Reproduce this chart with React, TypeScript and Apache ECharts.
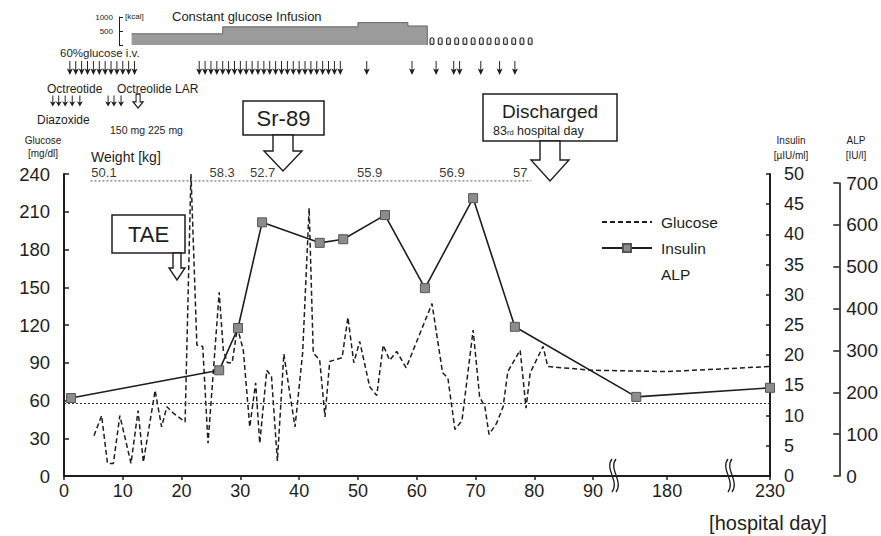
import React, { useEffect, useRef } from "react";
import * as echarts from "echarts";

// ---------- data ----------
const glucoseDays = [5.1, 6.4, 7.4, 8.4, 9.5, 11.4, 12.6, 13.5, 15.5, 16.6, 17.5, 18.6, 20.6, 21.6, 22.6, 23.6, 24.5, 26.4, 27.1, 27.8, 28.6, 29.5, 30.5, 31.6, 32.6, 33.3, 34.5, 35.3, 36.3, 37.4, 38.4, 39.3, 40.6, 41.7, 42.4, 43.5, 44.4, 45.2, 47.3, 48.3, 49.3, 50.3, 52.0, 53.2, 54.3, 55.4, 56.6, 58.2, 62.6, 64.4, 65.3, 66.5, 67.7, 69.6, 70.7, 71.6, 72.3, 73.6, 74.7, 75.5, 77.6, 78.6, 79.3, 81.5, 82.3, 90, 180, 230];
const glucoseValues = [32, 48, 10, 10, 48, 10, 52, 11, 68, 39, 55, 50, 43, 240, 104, 103, 26, 146, 100, 90, 90, 118, 100, 39, 74, 26, 84, 79, 12, 97, 66, 39, 98, 213, 98, 92, 47, 91, 94, 126, 90, 107, 71, 64, 104, 92, 99, 86, 137, 82, 78, 37, 44, 116, 63, 55, 33, 42, 55, 83, 100, 54, 82, 103, 87, 84, 83, 87];

const insulinDays = [1.2, 26.4, 29.6, 33.7, 43.5, 47.5, 54.6, 61.4, 69.6, 76.7, 165, 230];
const insulinValues = [12.9, 17.5, 24.5, 42, 38.6, 39.2, 43.2, 31.1, 46, 24.7, 13.1, 14.6];

const weightDays = [6.8, 26.9, 33.8, 52.0, 66.0, 77.6];
const weightValues = ["50.1", "58.3", "52.7", "55.9", "56.9", "57"];

const infusionDays = [11.5, 27, 50, 58.5, 61.8];
const infusionKcal = [400, 650, 800, 680, 0];

const intermittentDays = [62.6, 64.0, 65.4, 66.8, 68.2, 69.6, 71.0, 72.3, 73.7, 75.1, 76.5, 77.9, 79.3];
const intermittentKcal = [280, 280, 280, 280, 280, 280, 280, 280, 280, 280, 280, 280, 280];

const glucoseIVDays = [1, 2, 3, 4, 5, 6, 7, 8, 9, 10, 11, 12, 23, 24, 25, 26, 27, 28, 29, 30, 31, 32, 33, 34, 35, 36, 37, 38, 39, 40, 41, 42, 43, 44, 45, 46, 47, 51.5, 59.2, 63.3, 66.3, 67.3, 70.9, 74.1, 76.7];
const octreotideDays = [-1.9, -0.9, 0.2, 1.4, 2.7, 7.5, 8.5, 9.7];
const octreotideLARDays = [12.6];

const xTickDays = [0, 10, 20, 30, 40, 50, 60, 70, 80, 90, 180, 230];
const hypoglycemiaLine = 58;

// ---------- axis break mapping ----------
const AFTER_ANCHOR_POS = 102.6;
const AFTER_SCALE = 0.35;
const toPos = (d: number) => (d <= 90 ? d : AFTER_ANCHOR_POS + (d - 180) * AFTER_SCALE);
const toDay = (p: number) => (p <= 90.5 ? Math.round(p) : Math.round(180 + (p - AFTER_ANCHOR_POS) / AFTER_SCALE));
const X_MAX = toPos(230);

const W = 881;
const H = 536;
const GL = 64;
const GR = 111;
const PX_PER = (W - GL - GR) / X_MAX;

const FONT = "'Liberation Sans', Arial, sans-serif";
const INK = "#1e1e1e";

const arrowPath = "path://M4.2,0 L5.8,0 L5.8,10 L10,8.5 L5,16 L0,8.5 L4.2,10 Z";
const hollowArrowPath = "path://M3,0 L7,0 L7,9 L10,9 L5,16 L0,9 L3,9 Z";

function txt(x: number, y: number, text: string, fontSize: number, align = "left", extra: any = {}) {
  return {
    type: "text",
    x,
    y,
    silent: true,
    style: {
      text,
      fontSize,
      fontFamily: FONT,
      fill: INK,
      align,
      verticalAlign: "middle",
      textAlign: align,
      textVerticalAlign: "middle",
      ...extra,
    },
  };
}

function boxedArrow(pts: number[][]) {
  return {
    type: "polygon",
    silent: true,
    shape: { points: pts },
    style: { fill: "#fff", stroke: INK, lineWidth: 1.4 },
  };
}

function breakMark(x: number) {
  const mk = (dx: number) => ({
    type: "bezierCurve",
    silent: true,
    shape: { x1: x + dx + 1, y1: 459, cpx1: x + dx - 7, cpy1: 469, cpx2: x + dx + 9, cpy2: 481, x2: x + dx + 1, y2: 492 },
    style: { stroke: INK, lineWidth: 1.3, fill: "none" },
  });
  return [mk(0), mk(4)];
}

export default function App() {
  const ref = useRef<HTMLDivElement>(null);

  useEffect(() => {
    if (!ref.current) return;
    const chart = echarts.init(ref.current, undefined, { renderer: "svg" });

    const axisLineStyle = { color: INK, width: 2 };
    const xTickPos = xTickDays.map(toPos);
    const kcalMin = (119 - GL) / PX_PER;
    const annotMin = -(GL - 40) / PX_PER;

    const option: any = {
      animation: false,
      backgroundColor: "#fff",
      textStyle: { fontFamily: FONT, color: INK },
      grid: [
        { left: GL, right: GR, top: 174, bottom: 60 },
        { left: GL, right: 39, top: 183, bottom: 60 },
        { left: 119, right: GR, top: 17, bottom: H - 45 },
        { left: 40, right: GR, top: 55, bottom: H - 110 },
      ],
      xAxis: [
        {
          gridIndex: 0,
          type: "value",
          min: 0,
          max: X_MAX,
          axisLine: { show: true, onZero: false, lineStyle: axisLineStyle },
          axisTick: { show: true, customValues: xTickPos, length: 4, lineStyle: { color: INK, width: 1.5 } },
          axisLabel: {
            customValues: xTickPos,
            formatter: (v: number) => String(toDay(v)),
            fontSize: 18,
            color: INK,
            margin: 6,
            fontFamily: FONT,
          },
          splitLine: { show: false },
        },
        { gridIndex: 1, type: "value", min: 0, max: 1, show: false },
        { gridIndex: 2, type: "value", min: kcalMin, max: X_MAX, show: false },
        { gridIndex: 3, type: "value", min: annotMin, max: X_MAX, show: false },
      ],
      yAxis: [
        {
          gridIndex: 0,
          type: "value",
          min: 0,
          max: 240,
          interval: 30,
          position: "left",
          axisLine: { show: true, onZero: false, lineStyle: axisLineStyle },
          axisTick: { show: true, inside: true, length: 5, lineStyle: { color: INK, width: 1.5 } },
          axisLabel: { fontSize: 18.5, color: INK, margin: 14, fontFamily: FONT },
          splitLine: { show: false },
        },
        {
          gridIndex: 0,
          type: "value",
          min: 0,
          max: 50,
          interval: 5,
          position: "right",
          axisLine: { show: true, onZero: false, lineStyle: axisLineStyle },
          axisTick: { show: true, inside: true, length: 4, lineStyle: { color: INK, width: 1.5 } },
          axisLabel: { fontSize: 18, color: INK, margin: 14, fontFamily: FONT },
          splitLine: { show: false },
        },
        {
          gridIndex: 1,
          type: "value",
          min: 0,
          max: 700,
          interval: 100,
          position: "right",
          axisLine: { show: true, onZero: false, lineStyle: { color: INK, width: 1.6 } },
          axisTick: { show: true, inside: true, length: 6, lineStyle: { color: INK, width: 1.5 } },
          axisLabel: { fontSize: 19, color: INK, margin: 7, fontFamily: FONT },
          splitLine: { show: false },
        },
        {
          gridIndex: 2,
          type: "value",
          min: 0,
          max: 1000,
          position: "left",
          axisLine: { show: true, onZero: false, lineStyle: { color: INK, width: 1 } },
          axisTick: { show: true, inside: true, length: 4, customValues: [0, 500, 1000], lineStyle: { color: INK, width: 1 } },
          axisLabel: { customValues: [500, 1000], formatter: (v: number) => String(v), fontSize: 8, color: INK, margin: 6, fontFamily: FONT },
          splitLine: { show: false },
        },
        { gridIndex: 3, type: "value", min: 0, max: 55, inverse: true, show: false },
      ],
      legend: {
        data: [{ name: "Glucose", itemStyle: { opacity: 0 } }, "Insulin", "ALP"],
        orient: "vertical",
        left: 596,
        top: 209,
        itemWidth: 50,
        itemHeight: 10,
        itemGap: 10,
        textStyle: { fontSize: 15.5, color: INK, fontFamily: FONT, padding: [0, 0, 0, 4] },
        selectedMode: false,
      },
      series: [
        {
          name: "Glucose",
          type: "line",
          xAxisIndex: 0,
          yAxisIndex: 0,
          data: glucoseDays.map((d, i) => [toPos(d), glucoseValues[i]]),
          symbol: "none",
          lineStyle: { color: INK, width: 1.5, type: [5, 3] },
          itemStyle: { color: INK },
          z: 3,
          markLine: {
            silent: true,
            symbol: ["none", "none"],
            label: { show: false },
            lineStyle: { type: [2, 2], color: "#333", width: 1 },
            data: [{ yAxis: hypoglycemiaLine }],
          },
        },
        {
          name: "Insulin",
          type: "line",
          xAxisIndex: 0,
          yAxisIndex: 1,
          data: insulinDays.map((d, i) => [toPos(d), insulinValues[i]]),
          symbol: "rect",
          symbolSize: 9,
          lineStyle: { color: INK, width: 1.6 },
          itemStyle: { color: "#8c8c8c", borderColor: "#555", borderWidth: 1 },
          z: 4,
        },
        {
          name: "ALP",
          type: "line",
          xAxisIndex: 1,
          yAxisIndex: 2,
          data: [],
          symbol: "none",
          lineStyle: { opacity: 0 },
          itemStyle: { opacity: 0 },
        },
        {
          name: "WeightRow",
          type: "line",
          xAxisIndex: 0,
          yAxisIndex: 0,
          data: [[toPos(4.5), 234.5], [toPos(79.5), 234.5]],
          symbol: "none",
          lineStyle: { color: "#555", width: 1, type: [2, 2] },
          silent: true,
        },
        {
          name: "Weight",
          type: "scatter",
          xAxisIndex: 0,
          yAxisIndex: 0,
          data: weightDays.map((d, i) => [toPos(d), 234.5, weightValues[i]]),
          symbolSize: 0,
          label: {
            show: true,
            position: "top",
            distance: 2,
            fontSize: 13,
            color: "#000",
            fontFamily: FONT,
            formatter: (p: any) => p.value[2],
          },
          silent: true,
        },
        {
          name: "Infusion",
          type: "line",
          xAxisIndex: 2,
          yAxisIndex: 3,
          step: "end",
          data: infusionDays.map((d, i) => [toPos(d), infusionKcal[i]]),
          symbol: "none",
          lineStyle: { color: "#666", width: 1 },
          areaStyle: { color: "#9b9b9b", opacity: 1 },
          silent: true,
        },
        {
          name: "Intermittent",
          type: "bar",
          xAxisIndex: 2,
          yAxisIndex: 3,
          data: intermittentDays.map((d, i) => [toPos(d), intermittentKcal[i]]),
          barWidth: 5,
          itemStyle: { color: "#e6e6e6", borderColor: "#333", borderWidth: 1.2, borderRadius: [2, 2, 1, 1] },
          silent: true,
        },
        {
          name: "GlucoseIV",
          type: "scatter",
          xAxisIndex: 3,
          yAxisIndex: 4,
          data: glucoseIVDays.map((d) => [toPos(d), 13]),
          symbol: arrowPath,
          symbolSize: [6, 14],
          itemStyle: { color: INK, opacity: 1 },
          clip: false,
          silent: true,
        },
        {
          name: "Octreotide",
          type: "scatter",
          xAxisIndex: 3,
          yAxisIndex: 4,
          data: octreotideDays.map((d) => [toPos(d), 46]),
          symbol: arrowPath,
          symbolSize: [6, 11],
          itemStyle: { color: INK, opacity: 1 },
          clip: false,
          silent: true,
        },
        {
          name: "OctreotideLAR",
          type: "scatter",
          xAxisIndex: 3,
          yAxisIndex: 4,
          data: octreotideLARDays.map((d) => [toPos(d), 46]),
          symbol: hollowArrowPath,
          symbolSize: [10, 14],
          itemStyle: { color: "#fff", borderColor: INK, borderWidth: 1.2, opacity: 1 },
          clip: false,
          silent: true,
        },
      ],
      graphic: [
        txt(125, 16, "[kcal]", 8),
        txt(172, 16, "Constant glucose Infusion", 13),
        txt(60, 53, "60%glucose i.v.", 11.5),
        txt(47, 89, "Octreotide", 12),
        txt(117, 89, "Octreolide LAR", 12),
        txt(37, 120, "Diazoxide", 12),
        txt(110, 130, "150 mg 225 mg", 10.5),
        txt(43, 140, "Glucose", 10, "center"),
        txt(43, 153, "[mg/dl]", 10, "center"),
        txt(91, 157, "Weight [kg]", 14),
        txt(791, 140, "Insulin", 10, "center"),
        txt(791, 155, "[\u00b5IU/ml]", 10, "center"),
        txt(856, 140, "ALP", 10, "center"),
        txt(856, 155, "[IU/l]", 10, "center"),
        txt(768, 523, "[hospital day]", 20, "center"),
        { type: "rect", silent: true, shape: { x: 112, y: 215, width: 73, height: 38 }, style: { fill: "#fff", stroke: INK, lineWidth: 1.5 } },
        txt(148.5, 234.5, "TAE", 22, "center"),
        boxedArrow([[173, 253], [181, 253], [181, 268], [185, 268], [177, 280], [169, 268], [173, 268]]),
        { type: "rect", silent: true, shape: { x: 243, y: 101, width: 81, height: 34 }, style: { fill: "#fff", stroke: INK, lineWidth: 1.5 } },
        txt(283.5, 118.5, "Sr-89", 22, "center"),
        boxedArrow([[273, 135], [293, 135], [293, 151], [302, 151], [283, 171], [264, 151], [273, 151]]),
        { type: "rect", silent: true, shape: { x: 483, y: 94, width: 134, height: 47 }, style: { fill: "#fff", stroke: INK, lineWidth: 1.5 } },
        txt(550, 111, "Discharged", 19, "center"),
        txt(493, 131, "83", 12.5),
        txt(507, 132, "rd", 7.5),
        txt(517, 131, "hospital day", 12.5),
        boxedArrow([[540, 141], [560, 141], [560, 160], [569, 160], [550, 181], [531, 160], [540, 160]]),
        ...breakMark(611),
        ...breakMark(727),
      ],
    };

    chart.setOption(option);
    return () => chart.dispose();
  }, []);

  return (
    <div
      ref={ref}
      style={{ position: "fixed", left: 0, top: 0, width: W, height: H, background: "#fff" }}
    />
  );
}
